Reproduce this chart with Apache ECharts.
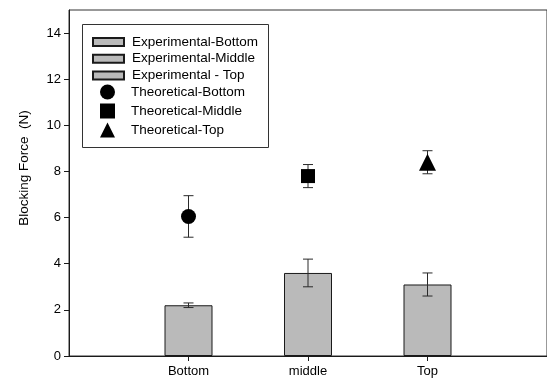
<!DOCTYPE html>
<html>
<head>
<meta charset="utf-8">
<script src="https://cdn.jsdelivr.net/npm/echarts@6/dist/echarts.min.js"></script>
<style>
  html, body { margin: 0; padding: 0; background: #fff; }
  #chart { width: 547px; height: 382px; }
</style>
</head>
<body>
<div id="chart"></div>
<script>
// Blocking force at three positions: measured (bars) vs. theoretical (markers)
var categories = ['Bottom', 'middle', 'Top'];
var experimentalNames = ['Experimental-Bottom', 'Experimental-Middle', 'Experimental - Top'];
var theoreticalNames = ['Theoretical-Bottom', 'Theoretical-Middle', 'Theoretical-Top'];
var experimentalMean = [2.2, 3.6, 3.1];
var experimentalErr = [0.1, 0.6, 0.5];
var theoreticalMean = [6.05, 7.8, 8.4];
var theoreticalErr = [0.9, 0.5, 0.5];
var theoreticalSymbols = ['circle', 'rect', 'triangle'];
var yTicks = [0, 2, 4, 6, 8, 10, 12, 14];

var FONT = 'Liberation Sans, Arial, sans-serif';
var BAR_FILL = '#bababa';
var INK = '#1a1a1a';

// x position of each category on the value axis (1, 2, 3)
function xPos(i) { return i + 1; }

function errorBarRenderer(means, errs, capHalf) {
  return function (params, api) {
    var i = params.dataIndex;
    var x = api.value(0);
    var top = api.coord([x, means[i] + errs[i]]);
    var bot = api.coord([x, means[i] - errs[i]]);
    var style = { stroke: '#2a2a2a', lineWidth: 1 };
    return {
      type: 'group',
      children: [
        { type: 'line', shape: { x1: top[0], y1: top[1], x2: bot[0], y2: bot[1] }, style: style },
        { type: 'line', shape: { x1: top[0] - capHalf, y1: top[1], x2: top[0] + capHalf, y2: top[1] }, style: style },
        { type: 'line', shape: { x1: bot[0] - capHalf, y1: bot[1], x2: bot[0] + capHalf, y2: bot[1] }, style: style }
      ]
    };
  };
}

var series = [];

experimentalNames.forEach(function (name, i) {
  series.push({
    name: name,
    type: 'bar',
    barWidth: 48,
    barGap: '-100%',
    itemStyle: { color: BAR_FILL, borderColor: INK, borderWidth: 1 },
    data: [[xPos(i), experimentalMean[i]]],
    z: 2
  });
});

series.push({
  type: 'custom',
  name: 'expErr',
  renderItem: errorBarRenderer(experimentalMean, experimentalErr, 5),
  data: categories.map(function (c, i) { return [xPos(i), experimentalMean[i]]; }),
  z: 3
});

series.push({
  type: 'custom',
  name: 'theoErr',
  renderItem: errorBarRenderer(theoreticalMean, theoreticalErr, 5),
  data: categories.map(function (c, i) { return [xPos(i), theoreticalMean[i]]; }),
  z: 3
});

theoreticalNames.forEach(function (name, i) {
  series.push({
    name: name,
    type: 'scatter',
    symbol: theoreticalSymbols[i],
    symbolSize: [15, 14, 17][i],
    itemStyle: { color: '#000', opacity: 1 },
    data: [[xPos(i), theoreticalMean[i]]],
    z: 4
  });
});

var chart = echarts.init(document.getElementById('chart'), null, { renderer: 'canvas' });

chart.setOption({
  animation: false,
  backgroundColor: '#fff',
  textStyle: { fontFamily: FONT },
  grid: {
    left: 69, right: -3, top: 10, bottom: 26,
    show: true, borderColor: '#333', borderWidth: 1
  },
  xAxis: {
    type: 'value',
    min: 0, max: 4, interval: 1,
    splitLine: { show: false },
    axisLine: { lineStyle: { color: INK, width: 1 } },
    axisTick: { customValues: [1, 2, 3], length: 5, lineStyle: { color: INK } },
    axisLabel: {
      customValues: [1, 2, 3],
      formatter: function (v) { return categories[Math.round(v) - 1]; },
      color: '#000', fontSize: 13, fontFamily: FONT, margin: 9
    }
  },
  yAxis: {
    type: 'value',
    min: 0, max: 15, interval: 2,
    name: 'Blocking Force  (N)',
    nameLocation: 'middle',
    nameGap: 38,
    nameTextStyle: { color: '#000', fontSize: 13.5, fontFamily: FONT, padding: [0, 0, 0, 30] },
    splitLine: { show: false },
    axisLine: { lineStyle: { color: INK, width: 1 } },
    axisTick: { customValues: yTicks, length: 5, lineStyle: { color: INK } },
    axisLabel: { customValues: yTicks, color: '#000', fontSize: 13, fontFamily: FONT, margin: 8 }
  },
  legend: [
    {
      data: experimentalNames,
      orient: 'vertical',
      left: 92, top: 35, padding: 0,
      itemWidth: 31, itemHeight: 8, itemGap: 2.7,
      icon: 'rect',
      textStyle: { color: '#000', fontSize: 13.5, fontFamily: FONT, lineHeight: 14, padding: [0, 0, 0, 3] },
      selectedMode: false
    },
    {
      data: theoreticalNames,
      orient: 'vertical',
      left: 100, top: 84.5, padding: 0,
      itemWidth: 15, itemHeight: 15, itemGap: 4,
      textStyle: { color: '#000', fontSize: 13.5, fontFamily: FONT, lineHeight: 14, padding: [0, 0, 0, 11] },
      selectedMode: false
    }
  ],
  graphic: [
    {
      type: 'rect',
      shape: { x: 82.5, y: 24.5, width: 186, height: 123 },
      style: { fill: 'none', stroke: '#333', lineWidth: 1 },
      z: 10
    }
  ],
  series: series
});
</script>
</body>
</html>
